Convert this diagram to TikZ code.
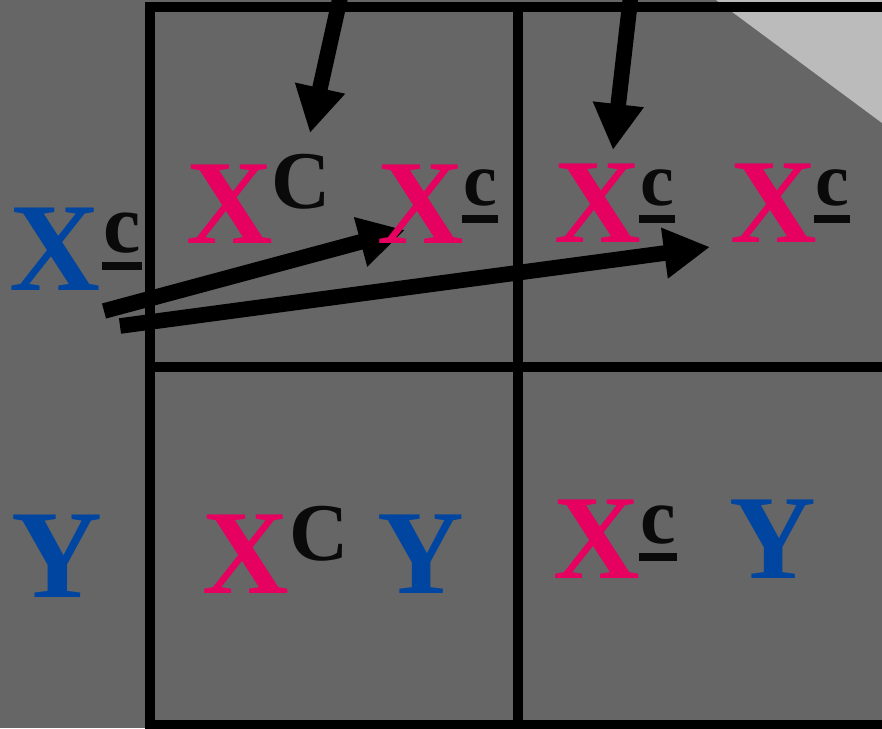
\documentclass[tikz,border=0pt]{standalone}
\usepackage{fontspec}
\setmainfont{Liberation Serif}
\usetikzlibrary{arrows.meta}
\definecolor{bgray}{HTML}{666666}
\definecolor{lgray}{HTML}{BBBBBB}
\definecolor{pinkX}{HTML}{E6005F}
\definecolor{blueX}{HTML}{0045A0}
\definecolor{inkc}{HTML}{0A0A0A}
% underlined lower-case c
\newcommand\ulc{\setbox0=\hbox{c}\rlap{\kern-0.5pt\rule[-9pt]{\dimexpr\wd0+1pt\relax}{4pt}}\box0}
\newcommand\gsize[1]{\fontsize{#1}{#1}\selectfont}
\tikzset{
  gene/.style={anchor=base west, inner sep=0pt, font=\bfseries\gsize{60pt}},
  pinkgene/.style={gene, text=pinkX},
  bluegene/.style={gene, text=blueX},
  bigblue/.style={gene, text=blueX, font=\bfseries\gsize{63pt}},
  supC/.style={gene, text=inkc, font=\bfseries\gsize{41pt}},
  supc/.style={gene, text=inkc, font=\bfseries\gsize{38pt}},
  grid/.style={line width=5pt, black},
  fatarrow/.style={line width=7.8pt, black, -{Triangle[length=23pt,width=24pt]}}
}
\begin{document}
\begin{tikzpicture}[x=0.5pt,y=-0.5pt]
\useasboundingbox (0,0) rectangle (882,728);
\clip (0,0) rectangle (882,728);
% background and corner
\fill[bgray] (0,0) rectangle (882,728);
\fill[lgray] (716,0) -- (882,0) -- (882,123) -- cycle;
% square grid
\draw[grid] (150,7) -- (890,7);
\draw[grid] (150,2) -- (150,735);
\draw[grid] (518,2) -- (518,735);
\draw[grid] (145,367) -- (890,367);
\draw[grid] (145,725) -- (890,725);
% arrow ends
\coordinate (a1s) at (341,-6);
\coordinate (a1e) at (310,133);
\coordinate (a2s) at (631,-6);
\coordinate (a2e) at (613,150);
\coordinate (a3s) at (104,311);
\coordinate (a3e) at (405,230);
\coordinate (a4s) at (120,326);
\coordinate (a4e) at (710,247);
\draw[fatarrow] (a1s) -- (a1e);
\draw[fatarrow] (a2s) -- (a2e);
\draw[fatarrow] (a3s) -- (a3e);
\draw[fatarrow] (a4s) -- (a4e);
% row and column headers
\node[bigblue] (hx) at (9,290) {X};
\node[supc, font=\bfseries\gsize{42pt}] (hxc) at (103,252) {\ulc};
\node[bigblue] (hy) at (11,597) {Y};
% top-left cell
\node[pinkgene] (tlx) at (186,243) {X};
\node[supC] (tlC) at (271,208) {C};
\node[pinkgene] (tlx2) at (377,243) {X};
\node[supc] (tlc2) at (463,205) {\ulc};
% top-right cell
\node[pinkgene] (trx) at (554,242) {X};
\node[supc] (trc) at (640,205) {\ulc};
\node[pinkgene] (trx2) at (730,242) {X};
\node[supc] (trc2) at (815,205) {\ulc};
% bottom-left cell
\node[pinkgene] (blx) at (202,593) {X};
\node[supC] (blC) at (289,560) {C};
\node[bluegene] (bly) at (377,593) {Y};
% bottom-right cell
\node[pinkgene] (brx) at (553,578) {X};
\node[supc, font=\bfseries\gsize{40pt}] (brc) at (640,543) {\ulc};
\node[bluegene] (bry) at (729,578) {Y};
\end{tikzpicture}
\end{document}
